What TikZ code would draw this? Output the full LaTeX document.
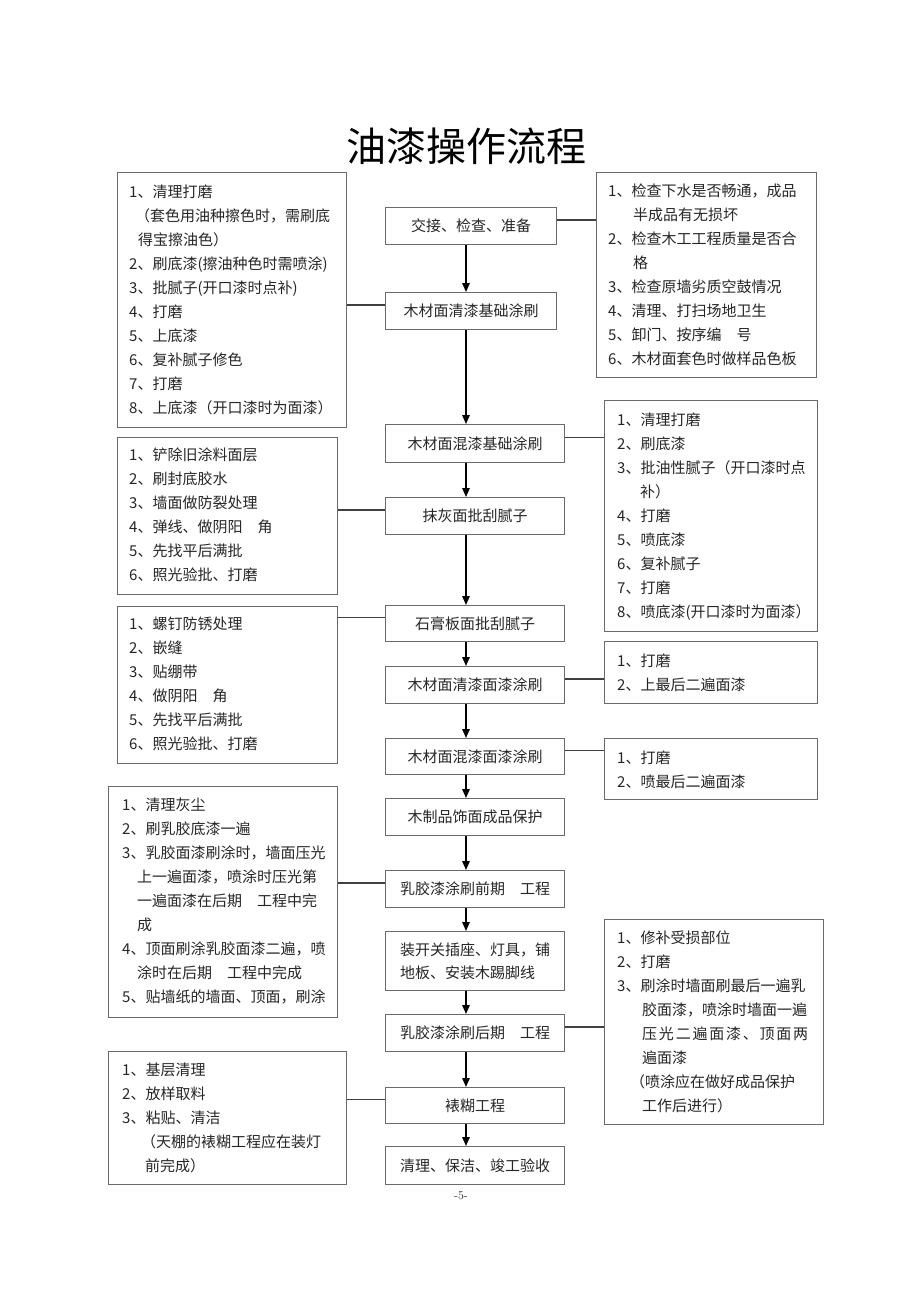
\documentclass[tikz,border=0pt]{standalone}
\usepackage{fontspec}
\newfontfamily\cjk{Noto Sans CJK SC}
\usetikzlibrary{arrows.meta,calc}
\definecolor{boxgray}{HTML}{6A6A6A}
\definecolor{txtc}{HTML}{262626}
\begin{document}
\begin{tikzpicture}[x=1pt,y=-1pt,
  cbox/.style={draw=boxgray,line width=1.1pt,anchor=north west,inner sep=0pt,
    font=\cjk\fontsize{15pt}{23pt}\selectfont,text=txtc},
  sbox/.style={draw=boxgray,line width=1.1pt,anchor=north west,inner sep=0pt},
  stxt/.style={anchor=north west,inner sep=0pt,align=left,
    font=\cjk\fontsize{15pt}{24pt}\selectfont,text=txtc},
  arr/.style={-{Triangle[length=9pt,width=7.5pt]},line width=1.4pt,black},
  conn/.style={line width=1.3pt,draw=black!75}]
\useasboundingbox (0,0) rectangle (920,1301);
\fill[white] (0,0) rectangle (920,1301);

\node[font=\cjk\fontsize{40pt}{40pt}\selectfont,text=black] (title) at (466,146) {油漆操作流程};

% centre column
\node[cbox,minimum width=171pt,minimum height=37pt] (C1) at (385,207) {交接、检查、准备};
\node[cbox,minimum width=171pt,minimum height=37pt] (C2) at (385,292) {木材面清漆基础涂刷};
\node[cbox,minimum width=179pt,minimum height=38pt] (C3) at (385,424) {木材面混漆基础涂刷};
\node[cbox,minimum width=179pt,minimum height=37pt] (C4) at (385,497) {抹灰面批刮腻子};
\node[cbox,minimum width=179pt,minimum height=36pt] (C5) at (385,605) {石膏板面批刮腻子};
\node[cbox,minimum width=179pt,minimum height=37pt] (C6) at (385,666) {木材面清漆面漆涂刷};
\node[cbox,minimum width=179pt,minimum height=36pt] (C7) at (385,738) {木材面混漆面漆涂刷};
\node[cbox,minimum width=179pt,minimum height=37pt] (C8) at (385,798) {木制品饰面成品保护};
\node[cbox,minimum width=179pt,minimum height=37pt] (C9) at (385,870) {乳胶漆涂刷前期　工程};
\node[cbox,minimum width=179pt,minimum height=59pt,align=left] (C10) at (385,931) {装开关插座、灯具，铺\\地板、安装木踢脚线};
\node[cbox,minimum width=179pt,minimum height=37pt] (C11) at (385,1014) {乳胶漆涂刷后期　工程};
\node[cbox,minimum width=179pt,minimum height=36pt] (C12) at (385,1087) {裱糊工程};
\node[cbox,minimum width=179pt,minimum height=38pt] (C13) at (385,1146) {清理、保洁、竣工验收};

\coordinate (ax) at (466,0);
\foreach \a/\b in {C1/C2,C2/C3,C3/C4,C4/C5,C5/C6,C6/C7,C7/C8,C8/C9,C9/C10,C10/C11,C11/C12,C12/C13}
  \draw[arr] (\a.south -| ax) -- (\b.north -| ax);

% side boxes
\node[sbox,minimum width=229pt,minimum height=255pt] (L1) at (117,172) {};
\node[sbox,minimum width=220pt,minimum height=157pt] (L2) at (117,437) {};
\node[sbox,minimum width=220pt,minimum height=157pt] (L3) at (117,606) {};
\node[sbox,minimum width=229pt,minimum height=231pt] (L4) at (108,786) {};
\node[sbox,minimum width=238pt,minimum height=133pt] (L5) at (108,1051) {};
\node[sbox,minimum width=220pt,minimum height=205pt] (R1) at (596,172) {};
\node[sbox,minimum width=213pt,minimum height=231pt] (R2) at (604,400) {};
\node[sbox,minimum width=213pt,minimum height=62pt] (R3) at (604,641) {};
\node[sbox,minimum width=213pt,minimum height=61pt] (R4) at (604,738) {};
\node[sbox,minimum width=219pt,minimum height=205pt] (R5) at (604,919) {};

% side texts
\node[stxt] (L1t) at (129,184.5) {1、清理打磨\\\hspace*{6pt}（套色用油种擦色时，需刷底\\\hspace*{9pt}得宝擦油色）\\2、刷底漆(擦油种色时需喷涂)\\3、批腻子(开口漆时点补)\\4、打磨\\5、上底漆\\6、复补腻子修色\\7、打磨\\8、上底漆（开口漆时为面漆）};
\node[stxt] (R1t) at (608,183.5) {1、检查下水是否畅通，成品\\\hspace*{25pt}半成品有无损坏\\2、检查木工工程质量是否合\\\hspace*{25pt}格\\3、检查原墙劣质空鼓情况\\4、清理、打扫场地卫生\\5、卸门、按序编　号\\6、木材面套色时做样品色板};
\node[stxt] (R2t) at (617,412.5) {1、清理打磨\\2、刷底漆\\3、批油性腻子（开口漆时点\\\hspace*{23pt}补）\\4、打磨\\5、喷底漆\\6、复补腻子\\7、打磨\\8、喷底漆(开口漆时为面漆）};
\node[stxt] (L2t) at (129,448) {1、铲除旧涂料面层\\2、刷封底胶水\\3、墙面做防裂处理\\4、弹线、做阴阳　角\\5、先找平后满批\\6、照光验批、打磨};
\node[stxt] (L3t) at (129,616.5) {1、螺钉防锈处理\\2、嵌缝\\3、贴绷带\\4、做阴阳　角\\5、先找平后满批\\6、照光验批、打磨};
\node[stxt] (R3t) at (617,654) {1、打磨\\2、上最后二遍面漆};
\node[stxt] (R4t) at (617,750.5) {1、打磨\\2、喷最后二遍面漆};
\node[stxt] (L4t) at (122,798) {1、清理灰尘\\2、刷乳胶底漆一遍\\3、乳胶面漆刷涂时，墙面压光\\\hspace*{15pt}上一遍面漆，喷涂时压光第\\\hspace*{15pt}一遍面漆在后期　工程中完\\\hspace*{15pt}成\\4、顶面刷涂乳胶面漆二遍，喷\\\hspace*{15pt}涂时在后期　工程中完成\\5、贴墙纸的墙面、顶面，刷涂};
\node[stxt] (R5t) at (617,931) {1、修补受损部位\\2、打磨\\3、刷涂时墙面刷最后一遍乳\\\hspace*{25pt}胶面漆，喷涂时墙面一遍\\\hspace*{25pt}\makebox[166pt][s]{压\hfil 光\hfil 二\hfil 遍\hfil 面\hfil 漆\hfil 、\hfil 顶\hfil 面\hfil 两}\\\hspace*{25pt}遍面漆\\\hspace*{13pt}（喷涂应在做好成品保护\\\hspace*{25pt}工作后进行）};
\node[stxt] (L5t) at (122,1063) {1、基层清理\\2、放样取料\\3、粘贴、清洁\\\hspace*{19pt}（天棚的裱糊工程应在装灯\\\hspace*{23pt}前完成）};

% connectors
\foreach \c/\s in {C1/R1,C3/R2,C6/R3,C7/R4,C11/R5}{
  \coordinate (k\c) at ([yshift=6pt]\c.east);
  \draw[conn] (k\c) -- (k\c -| \s.west);
}
\foreach \c/\s in {C2/L1,C4/L2,C5/L3,C9/L4,C12/L5}{
  \coordinate (k\c) at ([yshift=6pt]\c.west);
  \draw[conn] (k\c) -- (k\c -| \s.east);
}

\node[font=\fontsize{12pt}{12pt}\selectfont,text=txtc] (pg) at (461,1196) {-5-};
\end{tikzpicture}
\end{document}
